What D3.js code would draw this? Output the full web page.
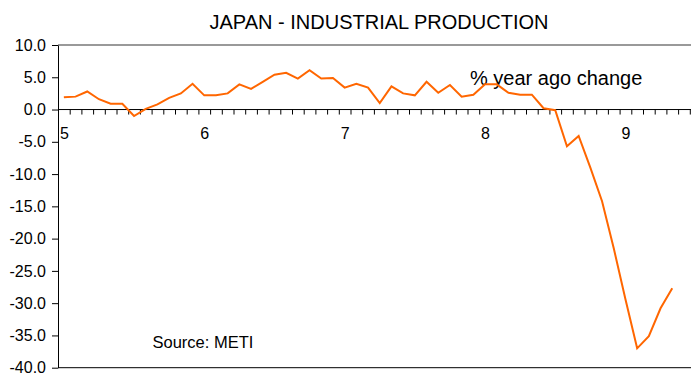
<!DOCTYPE html>
<html>
<head>
<meta charset="utf-8">
<script src="https://cdn.jsdelivr.net/npm/d3@7"></script>
<style>
  html, body { margin: 0; padding: 0; background: #fff; }
  svg { display: block; }
  text { font-family: "Liberation Sans", Arial, Helvetica, sans-serif; fill: #000; }
</style>
</head>
<body>
<svg id="chart" width="691" height="373"></svg>
<script>
// Monthly observations, Jan 2005 – May 2009
const months = [
  "2005-01","2005-02","2005-03","2005-04","2005-05","2005-06","2005-07","2005-08","2005-09","2005-10","2005-11","2005-12",
  "2006-01","2006-02","2006-03","2006-04","2006-05","2006-06","2006-07","2006-08","2006-09","2006-10","2006-11","2006-12",
  "2007-01","2007-02","2007-03","2007-04","2007-05","2007-06","2007-07","2007-08","2007-09","2007-10","2007-11","2007-12",
  "2008-01","2008-02","2008-03","2008-04","2008-05","2008-06","2008-07","2008-08","2008-09","2008-10","2008-11","2008-12",
  "2009-01","2009-02","2009-03","2009-04","2009-05"
];

// Industrial production, % change on a year earlier
const yoyChange = [
  1.9, 2.0, 2.8, 1.6, 0.9, 0.9, -1.0, 0.1, 0.8, 1.8, 2.5, 4.0,
  2.2, 2.2, 2.5, 3.9, 3.2, 4.3, 5.4, 5.7, 4.8, 6.1, 4.8, 4.9,
  3.4, 4.0, 3.4, 1.0, 3.6, 2.5, 2.2, 4.3, 2.6, 3.8, 2.0, 2.3,
  3.9, 3.9, 2.6, 2.3, 2.3, 0.2, -0.1, -5.7, -4.1, -9.0, -14.2, -21.5,
  -29.4, -37.0, -35.1, -30.8, -27.7
];

// Axis labels
const yTicks = [10, 5, 0, -5, -10, -15, -20, -25, -30, -35, -40];
const yearLabels = ["5", "6", "7", "8", "9"];

const W = 691, H = 373;
const svg = d3.select("#chart");
svg.append("rect").attr("width", W).attr("height", H).attr("fill", "#fff");

const plotLeft = 58, plotTop = 45, plotBottom = 367.7;
const monthSpan = 54; // Jan 2005 through Jun 2009
const x = d3.scaleLinear().domain([0, monthSpan]).range([plotLeft, 689.8]);
const y = d3.scaleLinear().domain([-40, 10]).range([plotBottom, plotTop]);

// Title and annotations
svg.append("text")
  .attr("x", 379).attr("y", 28.5)
  .attr("text-anchor", "middle")
  .style("font-size", "20px")
  .text("JAPAN - INDUSTRIAL PRODUCTION");

svg.append("text")
  .attr("x", 470).attr("y", 85)
  .style("font-size", "20px")
  .text("% year ago change");

svg.append("text")
  .attr("x", 152.5).attr("y", 348)
  .style("font-size", "16.5px")
  .text("Source: METI");

// Frame: top edge (grey) and bottom edge
svg.append("line")
  .attr("x1", plotLeft).attr("x2", W)
  .attr("y1", y(10)).attr("y2", y(10))
  .attr("stroke", "#777").attr("stroke-width", 1.6);
svg.append("line")
  .attr("x1", plotLeft).attr("x2", W)
  .attr("y1", y(-40)).attr("y2", y(-40))
  .attr("stroke", "#000").attr("stroke-width", 1);

// Value axis
const yAxis = svg.append("g")
  .attr("transform", `translate(${plotLeft},0)`)
  .call(d3.axisLeft(y)
    .tickValues(yTicks)
    .tickSize(6)
    .tickSizeOuter(0)
    .tickPadding(6)
    .tickFormat(d => d.toFixed(1)));
yAxis.selectAll("text").style("font-size", "16px").attr("fill", "#000");
yAxis.selectAll("line").attr("stroke", "#000");
yAxis.select(".domain").attr("stroke", "#000");

// Zero line with monthly tick marks
const zeroY = y(0);
svg.append("line")
  .attr("x1", plotLeft).attr("x2", W)
  .attr("y1", zeroY).attr("y2", zeroY)
  .attr("stroke", "#000").attr("stroke-width", 1);

const monthAxis = svg.append("g")
  .attr("transform", `translate(0,${zeroY})`)
  .call(d3.axisBottom(x)
    .tickValues(d3.range(0, monthSpan + 1))
    .tickSize(5)
    .tickSizeOuter(0)
    .tickFormat(""));
monthAxis.select(".domain").remove();
monthAxis.selectAll("line").attr("stroke", "#000");

// Year labels, centred on each January
const yearAxis = svg.append("g")
  .attr("transform", `translate(0,${zeroY})`)
  .call(d3.axisBottom(x)
    .tickValues(yearLabels.map((_, i) => i * 12 + 0.5))
    .tickSize(0)
    .tickPadding(18.5)
    .tickFormat((d, i) => yearLabels[i]));
yearAxis.select(".domain").remove();
yearAxis.selectAll("text").style("font-size", "16px").attr("fill", "#000");

// Series line, each point at mid-month
const line = d3.line()
  .x((d, i) => x(i + 0.5))
  .y(d => y(d));

svg.append("path")
  .datum(yoyChange)
  .attr("fill", "none")
  .attr("stroke", "#ff6600")
  .attr("stroke-width", 2)
  .attr("stroke-linejoin", "miter")
  .attr("d", line);
</script>
</body>
</html>
